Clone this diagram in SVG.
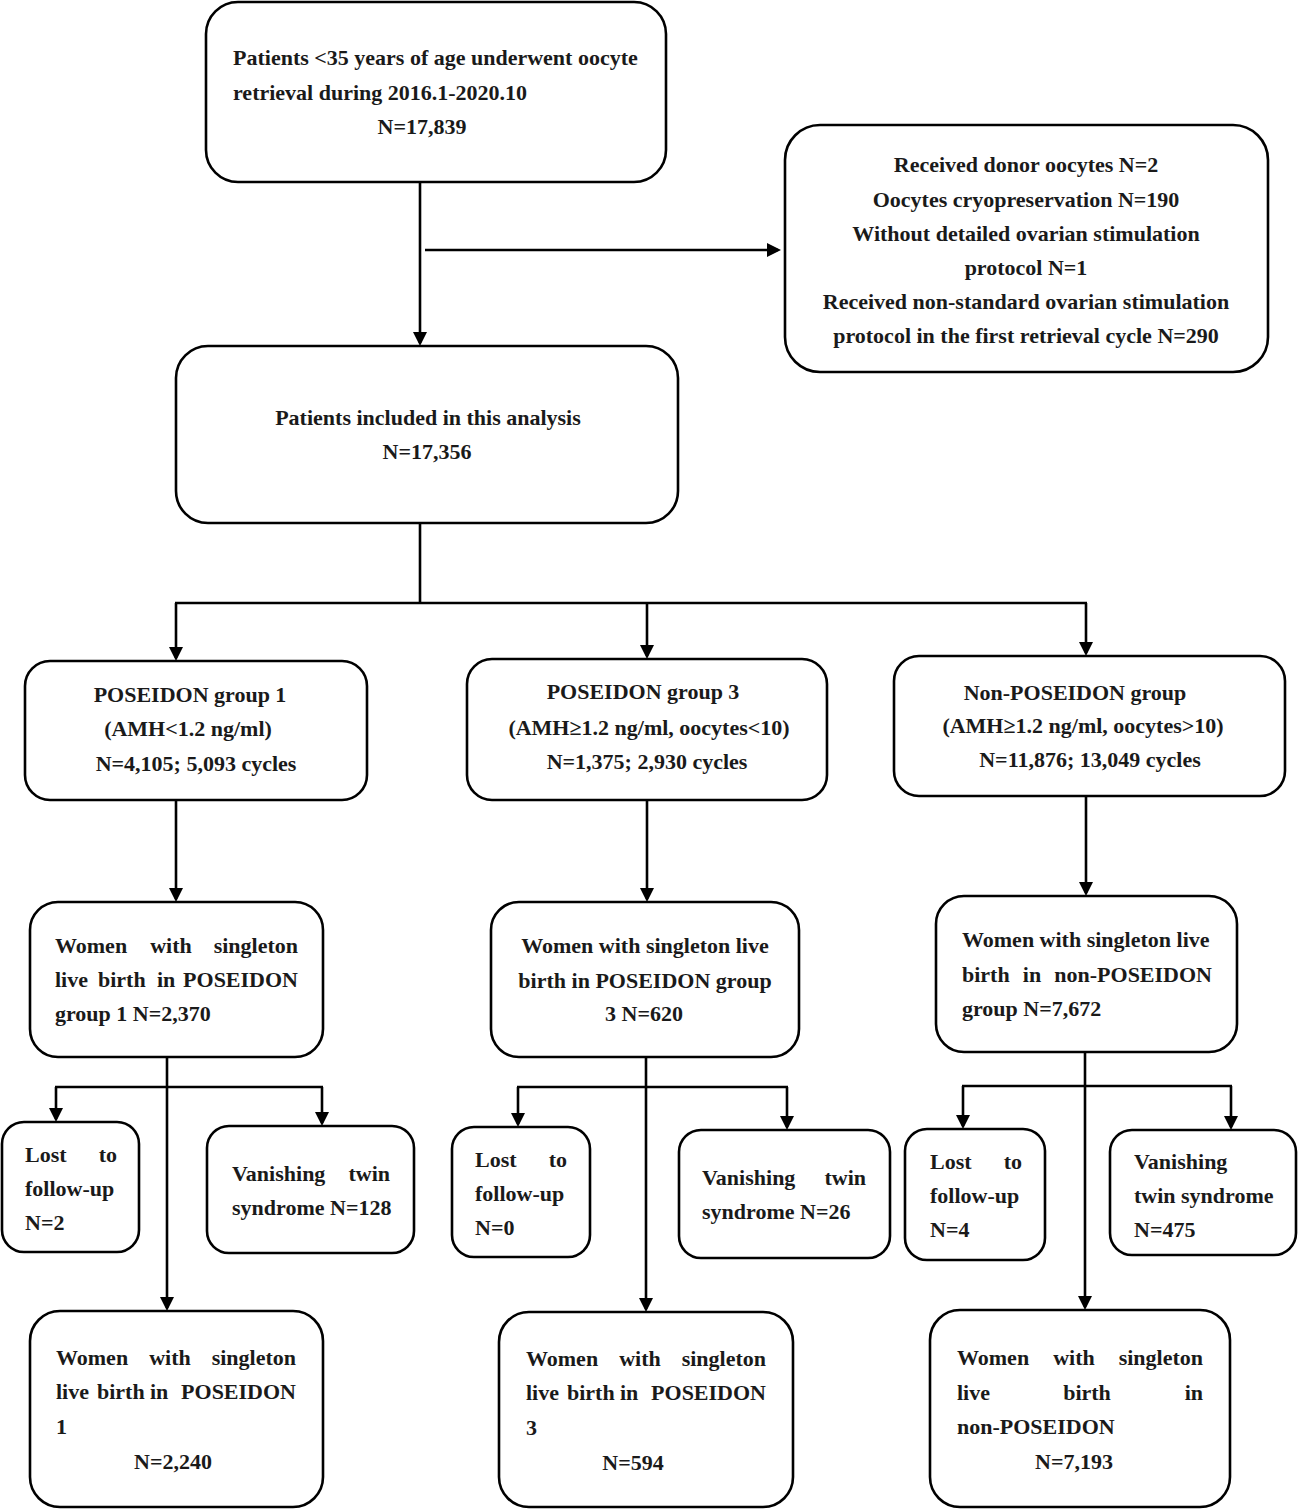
<svg xmlns="http://www.w3.org/2000/svg" width="1299" height="1510" viewBox="0 0 1299 1510">
<style>
.box{fill:#fff;stroke:#000;stroke-width:2.6}
text{font-family:"Liberation Serif","Times New Roman",serif;font-weight:bold;font-size:22px;fill:#1a1a1a}
.c{text-anchor:middle}
.e{text-anchor:end}
.ln{fill:none;stroke:#000;stroke-width:2.6}
.ar{fill:none;stroke:#000;stroke-width:2.6;marker-end:url(#ah)}
</style>
<defs>
<marker id="ah" markerUnits="userSpaceOnUse" markerWidth="16" markerHeight="16" refX="11" refY="7" orient="auto">
<path d="M0,0 L14,7 L0,14 z" fill="#000"/>
</marker>
</defs>
<rect width="1299" height="1510" fill="#fff"/>
<g id="connectors">
<line class="ar" x1="420" y1="182" x2="420" y2="343"/>
<line class="ar" x1="425" y1="250" x2="778" y2="250"/>
<line class="ln" x1="420" y1="523" x2="420" y2="603"/>
<line class="ln" x1="175" y1="603" x2="1087" y2="603"/>
<line class="ar" x1="176" y1="603" x2="176" y2="658"/>
<line class="ar" x1="647" y1="603" x2="647" y2="656"/>
<line class="ar" x1="1086" y1="603" x2="1086" y2="653"/>
<line class="ar" x1="176" y1="800" x2="176" y2="899"/>
<line class="ar" x1="647" y1="800" x2="647" y2="899"/>
<line class="ar" x1="1086" y1="796" x2="1086" y2="893"/>
<line class="ar" x1="167" y1="1057" x2="167" y2="1308"/>
<line class="ln" x1="55" y1="1087" x2="323" y2="1087"/>
<line class="ar" x1="56" y1="1087" x2="56" y2="1119"/>
<line class="ar" x1="322" y1="1087" x2="322" y2="1123"/>
<line class="ar" x1="646" y1="1057" x2="646" y2="1309"/>
<line class="ln" x1="517" y1="1087" x2="788" y2="1087"/>
<line class="ar" x1="518" y1="1087" x2="518" y2="1124"/>
<line class="ar" x1="787" y1="1087" x2="787" y2="1127"/>
<line class="ar" x1="1085" y1="1052" x2="1085" y2="1307"/>
<line class="ln" x1="962" y1="1086" x2="1232" y2="1086"/>
<line class="ar" x1="963" y1="1086" x2="963" y2="1126"/>
<line class="ar" x1="1231" y1="1086" x2="1231" y2="1127"/>
</g>
<g id="n_start">
<rect class="box" x="206" y="2" width="460" height="180" rx="32"/>
<text x="233" y="65">Patients &lt;35 years of age underwent oocyte</text>
<text x="233" y="100">retrieval during 2016.1-2020.10</text>
<text class="c" x="422" y="134">N=17,839</text>
</g>
<g id="n_excluded">
<rect class="box" x="785" y="125" width="483" height="247" rx="35"/>
<text class="c" x="1026" y="172">Received donor oocytes N=2</text>
<text class="c" x="1026" y="207">Oocytes cryopreservation N=190</text>
<text class="c" x="1026" y="241">Without detailed ovarian stimulation</text>
<text class="c" x="1026" y="275">protocol N=1</text>
<text class="c" x="1026" y="309">Received non-standard ovarian stimulation</text>
<text class="c" x="1026" y="343">protocol in the first retrieval cycle N=290</text>
</g>
<g id="n_included">
<rect class="box" x="176" y="346" width="502" height="177" rx="32"/>
<text class="c" x="428" y="425">Patients included in this analysis</text>
<text class="c" x="427" y="459">N=17,356</text>
</g>
<g id="n_g1">
<rect class="box" x="25" y="661" width="342" height="139" rx="25"/>
<text class="c" x="190" y="702">POSEIDON group 1</text>
<text class="c" x="188" y="736">(AMH&lt;1.2 ng/ml)</text>
<text class="c" x="196" y="771">N=4,105; 5,093 cycles</text>
</g>
<g id="n_g3">
<rect class="box" x="467" y="659" width="360" height="141" rx="25"/>
<text class="c" x="643" y="699">POSEIDON group 3</text>
<text class="c" x="649" y="735">(AMH≥1.2 ng/ml, oocytes&lt;10)</text>
<text class="c" x="647" y="769">N=1,375; 2,930 cycles</text>
</g>
<g id="n_gnp">
<rect class="box" x="894" y="656" width="391" height="140" rx="25"/>
<text class="c" x="1075" y="700">Non-POSEIDON group</text>
<text class="c" x="1083" y="733">(AMH≥1.2 ng/ml, oocytes&gt;10)</text>
<text class="c" x="1090" y="767">N=11,876; 13,049 cycles</text>
</g>
<g id="n_w1">
<rect class="box" x="30" y="902" width="293" height="155" rx="28"/>
<text x="55" y="953">Women</text><text class="c" x="171" y="953">with</text><text class="e" x="298" y="953">singleton</text>
<text x="55" y="987">live</text><text x="98" y="987">birth</text><text x="157" y="987">in</text><text class="e" x="298" y="987">POSEIDON</text>
<text x="55" y="1021">group 1 N=2,370</text>
</g>
<g id="n_w3">
<rect class="box" x="491" y="902" width="308" height="155" rx="28"/>
<text class="c" x="645" y="953">Women with singleton live</text>
<text class="c" x="645" y="988">birth in POSEIDON group</text>
<text class="c" x="644" y="1021">3 N=620</text>
</g>
<g id="n_wnp">
<rect class="box" x="936" y="896" width="301" height="156" rx="28"/>
<text x="962" y="947">Women with singleton live</text>
<text x="962" y="982">birth</text><text class="c" x="1032" y="982">in</text><text class="e" x="1212" y="982">non-POSEIDON</text>
<text x="962" y="1016">group N=7,672</text>
</g>
<g id="n_l1">
<rect class="box" x="2" y="1122" width="137" height="130" rx="22"/>
<text x="25" y="1162">Lost</text><text class="e" x="117" y="1162">to</text>
<text x="25" y="1196">follow-up</text>
<text x="25" y="1230">N=2</text>
</g>
<g id="n_v1">
<rect class="box" x="207" y="1126" width="207" height="127" rx="22"/>
<text x="232" y="1181">Vanishing</text><text class="e" x="390" y="1181">twin</text>
<text x="232" y="1215">syndrome N=128</text>
</g>
<g id="n_l3">
<rect class="box" x="452" y="1127" width="138" height="130" rx="22"/>
<text x="475" y="1167">Lost</text><text class="e" x="567" y="1167">to</text>
<text x="475" y="1201">follow-up</text>
<text x="475" y="1235">N=0</text>
</g>
<g id="n_v3">
<rect class="box" x="679" y="1130" width="211" height="128" rx="22"/>
<text x="702" y="1185">Vanishing</text><text class="e" x="866" y="1185">twin</text>
<text x="702" y="1219">syndrome N=26</text>
</g>
<g id="n_lnp">
<rect class="box" x="905" y="1129" width="140" height="131" rx="22"/>
<text x="930" y="1169">Lost</text><text class="e" x="1022" y="1169">to</text>
<text x="930" y="1203">follow-up</text>
<text x="930" y="1237">N=4</text>
</g>
<g id="n_vnp">
<rect class="box" x="1110" y="1130" width="186" height="125" rx="22"/>
<text x="1134" y="1169">Vanishing</text>
<text x="1134" y="1203">twin syndrome</text>
<text x="1134" y="1237">N=475</text>
</g>
<g id="n_f1">
<rect class="box" x="30" y="1311" width="293" height="196" rx="30"/>
<text x="56" y="1365">Women</text><text class="c" x="170" y="1365">with</text><text class="e" x="296" y="1365">singleton</text>
<text x="56" y="1399">live</text><text x="97" y="1399">birth</text><text x="150" y="1399">in</text><text class="e" x="296" y="1399">POSEIDON</text>
<text x="56" y="1434">1</text>
<text class="c" x="173" y="1469">N=2,240</text>
</g>
<g id="n_f3">
<rect class="box" x="499" y="1312" width="294" height="195" rx="30"/>
<text x="526" y="1366">Women</text><text class="c" x="640" y="1366">with</text><text class="e" x="766" y="1366">singleton</text>
<text x="526" y="1400">live</text><text x="567" y="1400">birth</text><text x="620" y="1400">in</text><text class="e" x="766" y="1400">POSEIDON</text>
<text x="526" y="1435">3</text>
<text class="c" x="633" y="1470">N=594</text>
</g>
<g id="n_fnp">
<rect class="box" x="930" y="1310" width="300" height="197" rx="30"/>
<text x="957" y="1365">Women</text><text class="c" x="1074" y="1365">with</text><text class="e" x="1203" y="1365">singleton</text>
<text x="957" y="1400">live</text><text class="c" x="1087" y="1400">birth</text><text class="e" x="1203" y="1400">in</text>
<text x="957" y="1434">non-POSEIDON</text>
<text class="c" x="1074" y="1469">N=7,193</text>
</g>
</svg>
